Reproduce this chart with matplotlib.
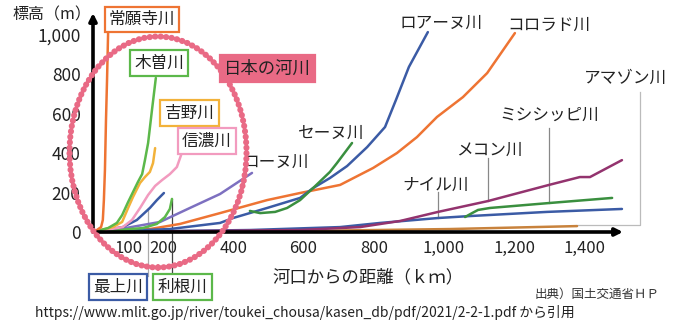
import matplotlib
matplotlib.use("Agg")
import matplotlib.pyplot as plt
from matplotlib.patches import Ellipse

plt.rcParams['font.family'] = ['Noto Sans CJK JP', 'DejaVu Sans']

# ---- river profiles: distance from mouth (km) vs. elevation (m) ----
joganji_km = [0, 11, 23, 28, 31, 34, 37, 40, 43]
joganji_m = [0, 10, 25, 61, 162, 315, 569, 772, 1010]

kiso_km = [0, 43, 68, 83, 100, 114, 128, 140, 148, 157, 168, 179]
kiso_m = [0, 20, 46, 86, 152, 203, 254, 294, 365, 452, 619, 782]

yoshino_km = [0, 57, 83, 100, 114, 134, 148, 162, 171, 177]
yoshino_m = [0, 25, 51, 122, 178, 249, 279, 305, 350, 426]

shinano_km = [0, 85, 111, 134, 157, 177, 197, 219, 239, 251]
shinano_m = [0, 25, 61, 122, 188, 234, 264, 294, 330, 391]

mogami_km = [0, 85, 125, 162, 182, 202]
mogami_m = [0, 25, 61, 122, 162, 198]

tone_km = [0, 142, 182, 205, 219, 225]
tone_m = [0, 20, 41, 76, 117, 168]

rhone_km = [0, 77, 191, 276, 362, 453]
rhone_m = [0, 15, 51, 122, 193, 300]

seine_km = [447, 476, 519, 553, 590, 627, 675, 695, 738]
seine_m = [107, 96, 102, 122, 162, 223, 305, 350, 452]

loire_km = [0, 219, 362, 399, 496, 590, 627, 675, 724, 781, 832, 863, 900, 954]
loire_m = [0, 15, 46, 71, 122, 173, 223, 274, 335, 431, 533, 670, 838, 1015]

colorado_km = [0, 162, 248, 362, 496, 590, 704, 798, 866, 923, 980, 1054, 1123, 1202]
colorado_m = [0, 15, 41, 96, 162, 198, 239, 325, 401, 482, 584, 685, 807, 1010]

nile_km = [0, 447, 704, 818, 983, 1074, 1293, 1507]
nile_m = [0, 10, 25, 46, 71, 81, 102, 117]

mekong_km = [0, 590, 761, 875, 983, 1125, 1299, 1387, 1416, 1507]
mekong_m = [0, 10, 25, 56, 102, 157, 239, 279, 279, 365]

mississippi_km = [1060, 1080, 1097, 1131, 1299, 1479]
mississippi_m = [76, 96, 112, 122, 147, 173]

amazon_km = [0, 590, 1017, 1379]
amazon_m = [0, 5, 15, 30]

x_ticks = [100, 200, 400, 600, 800, 1000, 1200, 1400]
y_ticks = [0, 200, 400, 600, 800, 1000]

ORANGE = '#ee7433'
BLUE = '#3b5ba5'
GREEN_D = '#3a8f3f'
GREEN_L = '#5cb84a'
YELLOW = '#f2b23a'
PINK = '#f29bbf'
LAVENDER = '#7d70c0'
PLUM = '#93336e'
AMBER = '#c8823c'
ROSE = '#e96a85'

W, H = 680, 327
fig = plt.figure(figsize=(W / 100, H / 100), dpi=100)


def fp(x, y):
    """pixel position (from top-left) -> figure fraction"""
    return x / W, 1 - y / H


ax = fig.add_axes([93 / W, (H - 232) / H, (623 - 93) / W, (232 - 13) / H])
ax.set_xlim(0, 1510)
ax.set_ylim(0, 1112)
for s in ax.spines.values():
    s.set_visible(False)

lw = 1.8
series = [
    (amazon_km, amazon_m, AMBER),
    (nile_km, nile_m, BLUE),
    (mekong_km, mekong_m, PLUM),
    (mississippi_km, mississippi_m, GREEN_D),
    (colorado_km, colorado_m, ORANGE),
    (loire_km, loire_m, BLUE),
    (seine_km, seine_m, GREEN_D),
    (rhone_km, rhone_m, LAVENDER),
    (tone_km, tone_m, GREEN_L),
    (mogami_km, mogami_m, BLUE),
    (shinano_km, shinano_m, PINK),
    (yoshino_km, yoshino_m, YELLOW),
    (kiso_km, kiso_m, GREEN_L),
    (joganji_km, joganji_m, ORANGE),
]
for xs, ys, c in series:
    ax.plot(xs, ys, color=c, lw=lw, solid_capstyle='round', solid_joinstyle='round',
            clip_on=False, zorder=3)

# leader lines
lead = dict(color='#888888', lw=0.9, clip_on=False, zorder=2)
ax.plot([983, 983], [71, 203], **lead)
ax.plot([1125, 1125], [157, 376], **lead)
ax.plot([1299, 1299], [147, 528], **lead)
ax.plot([1558, 1558, 1379], [711, 36, 36], color='#bbbbbb', lw=0.9, clip_on=False, zorder=2)
ax.plot([157, 157], [122, -223], color='#aaaaaa', lw=0.9, clip_on=False, zorder=2)
ax.plot([225, 225], [168, -223], color='#444444', lw=0.9, clip_on=False, zorder=2)

# axes with arrow heads
ax.annotate('', xy=(0, 1.0), xytext=(0, 0), xycoords='axes fraction',
            arrowprops=dict(arrowstyle='-|>', lw=2.6, color='black', mutation_scale=11,
                            shrinkA=0, shrinkB=0), zorder=6)
ax.annotate('', xy=(1.0, 0), xytext=(0, 0), xycoords='axes fraction',
            arrowprops=dict(arrowstyle='-|>', lw=2.6, color='black', mutation_scale=11,
                            shrinkA=0, shrinkB=0), zorder=6)

ax.set_xticks(x_ticks)
ax.set_xticklabels([f'{v:,}' for v in x_ticks])
ax.set_yticks(y_ticks)
ax.set_yticklabels([f'{v:,}' for v in y_ticks])
ax.tick_params(axis='x', length=0, pad=6, labelsize=12, colors='#222222')
ax.tick_params(axis='y', length=0, pad=9, labelsize=12.5, colors='#222222')

# beaded ellipse around the Japanese rivers
ell = Ellipse(fp(158, 152), 177 / W, 231 / H, transform=fig.transFigure,
              fill=False, edgecolor=ROSE, lw=4.4, linestyle=(0, (0.05, 0.85)),
              capstyle='round', zorder=7)
fig.patches.append(ell)

TXT = '#222222'


def label(x, y, s, size=12, **kw):
    fig.text(*fp(x, y), s, ha='center', va='center', fontsize=size, color=TXT, **kw)


def boxed(x, y, s, ec, size=12, fc='white'):
    fig.text(*fp(x, y), s, ha='center', va='center', fontsize=size, color=TXT, zorder=8,
             bbox=dict(boxstyle='square,pad=0.25', fc=fc, ec=ec, lw=1.6))


fig.text(*fp(12, 15), '標高（m）', ha='left', va='center', fontsize=11.5, color=TXT)
fig.text(*fp(368, 277), '河口からの距離（ｋｍ）', ha='center', va='center', fontsize=12.5, color=TXT)

boxed(142, 19.5, '常願寺川', ORANGE)
boxed(159, 63, '木曽川', GREEN_L)
boxed(189.5, 113, '吉野川', YELLOW)
boxed(207, 141, '信濃川', PINK)
boxed(118, 287, '最上川', BLUE)
boxed(182.5, 287, '利根川', GREEN_L)
boxed(267.5, 68.5, '日本の河川', ROSE, size=12.5, fc=ROSE)

label(441, 23, 'ロアーヌ川')
label(549, 25, 'コロラド川')
label(625, 78, 'アマゾン川')
label(549, 115, 'ミシシッピ川')
label(489, 150, 'メコン川')
label(436, 185, 'ナイル川')
label(331, 133, 'セーヌ川')
label(276, 162, 'ローヌ川')

fig.text(*fp(535, 294), '出典）国土交通省ＨＰ', ha='left', va='center', fontsize=9, color='#333333')
fig.text(*fp(35, 313), 'https://www.mlit.go.jp/river/toukei_chousa/kasen_db/pdf/2021/2-2-1.pdf から引用',
         ha='left', va='center', fontsize=10, color=TXT)

fig.savefig('out.png', dpi=100)
